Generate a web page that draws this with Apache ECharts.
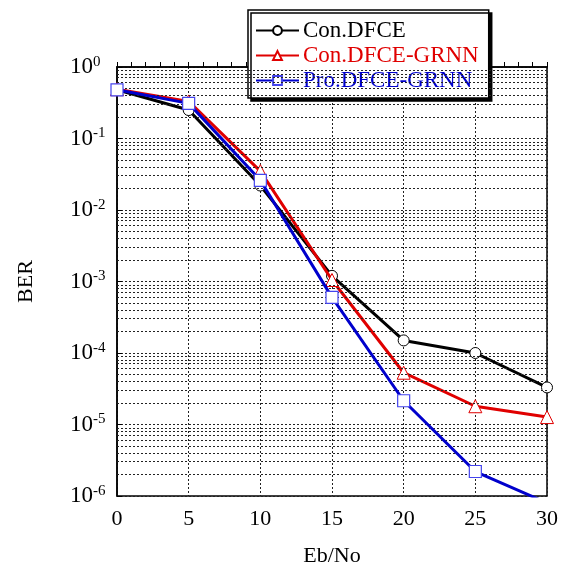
<!DOCTYPE html>
<html>
<head>
<meta charset="utf-8">
<script src="https://cdn.jsdelivr.net/npm/echarts@6/dist/echarts.min.js"></script>
<style>html,body{margin:0;padding:0;background:#fff;}#c{width:566px;height:572px;}</style>
</head>
<body>
<div id="c"></div>
<script>
var ebno = [0, 5, 10, 15, 20, 25, 30];
var conDFCE = [0.48, 0.25, 0.022, 0.0012, 1.5e-4, 1.0e-4, 3.3e-5];
var conDFCEGRNN = [0.49, 0.33, 0.035, 0.00105, 5.3e-5, 1.8e-5, 1.27e-5];
var proDFCEGRNN = [0.48, 0.31, 0.026, 6.0e-4, 2.15e-5, 2.2e-6, 8e-7];
var seriesNames = ['Con.DFCE', 'Con.DFCE-GRNN', 'Pro.DFCE-GRNN'];
var minorMultipliers = [2, 3, 4, 5, 6, 7, 8, 9];
var decades = [-6, -5, -4, -3, -2, -1];

var FONT = 'Liberation Serif';
var minorLines = [];
decades.forEach(function (d) {
  minorMultipliers.forEach(function (m) {
    minorLines.push({ yAxis: d + Math.log10(m) });
  });
});
function pairs(ys) { return ebno.map(function (x, i) { return [x, ys[i]]; }); }

var chart = echarts.init(document.getElementById('c'));
chart.setOption({
  animation: false,
  backgroundColor: '#fff',
  grid: { left: 117, right: 19, top: 67, bottom: 75, show: true, borderColor: '#000', borderWidth: 1.5, backgroundColor: 'transparent' },
  legend: {
    orient: 'vertical',
    left: 248, top: 10,
    padding: [9, 10, 6, 7],
    itemGap: 2,
    itemWidth: 43, itemHeight: 11,
    backgroundColor: '#fff',
    borderColor: '#000', borderWidth: 1.5, borderRadius: 0,
    shadowColor: '#000', shadowBlur: 0, shadowOffsetX: 3, shadowOffsetY: 3,
    textStyle: { fontFamily: FONT, fontSize: 23, padding: [0, 0, 0, -1] },
    data: [
      { name: seriesNames[0], textStyle: { color: '#000' } },
      { name: seriesNames[1], textStyle: { color: '#e00000' } },
      { name: seriesNames[2], textStyle: { color: '#0000cc' } }
    ]
  },
  xAxis: {
    type: 'value', min: 0, max: 30, interval: 5,
    name: 'Eb/No', nameLocation: 'middle', nameGap: 49,
    nameTextStyle: { fontFamily: FONT, fontSize: 22, color: '#000' },
    axisLine: { lineStyle: { color: '#000', width: 1.5 } },
    axisTick: { inside: true, length: 5, lineStyle: { color: '#000' } },
    minorTick: { show: true, splitNumber: 5, length: 5, lineStyle: { color: '#000' } },
    axisLabel: { fontFamily: FONT, fontSize: 22, color: '#000', margin: 12 },
    splitLine: { show: true, lineStyle: { color: '#222', type: [2, 2], width: 1 } }
  },
  yAxis: [
    {
      type: 'log', logBase: 10, min: 1e-6, max: 1, splitNumber: 6,
      name: 'BER', nameLocation: 'middle', nameGap: 80, nameRotate: 90,
      nameTextStyle: { fontFamily: FONT, fontSize: 22, color: '#000' },
      axisLine: { lineStyle: { color: '#000', width: 1.5 } },
      axisTick: { inside: true, length: 5, lineStyle: { color: '#000' } },
      axisLabel: {
        margin: 47, align: 'left',
        formatter: function (v) {
          var e = Math.round(Math.log10(v));
          return '{b|10}{s|' + e + '}';
        },
        rich: {
          b: { fontFamily: FONT, fontSize: 23, color: '#000' },
          s: { fontFamily: FONT, fontSize: 15, color: '#000', verticalAlign: 'top', padding: [0, 0, 10, 0] }
        }
      },
      splitLine: { show: true, lineStyle: { color: '#222', type: [2, 2], width: 1 } }
    },
    {
      type: 'value', min: -6, max: 0, interval: 1, show: false,
      axisLine: { show: false }, axisTick: { show: false }, axisLabel: { show: false }, splitLine: { show: false }
    }
  ],
  series: [
    {
      name: 'grid-minor', type: 'line', data: [], yAxisIndex: 1, z: 1, silent: true,
      markLine: {
        silent: true, symbol: 'none', label: { show: false },
        lineStyle: { color: '#222', type: [2, 2], width: 1 },
        emphasis: { disabled: true },
        data: minorLines
      }
    },
    {
      name: seriesNames[0], type: 'line', data: pairs(conDFCE), z: 3, clip: true,
      color: '#000',
      lineStyle: { color: '#000', width: 3 },
      symbol: 'circle', symbolSize: 11,
      itemStyle: { color: '#fff', borderColor: '#000', borderWidth: 1 }
    },
    {
      name: seriesNames[1], type: 'line', data: pairs(conDFCEGRNN), z: 4, clip: true,
      color: '#e00000',
      lineStyle: { color: '#e00000', width: 3 },
      symbol: 'triangle', symbolSize: 13,
      itemStyle: { color: '#fff', borderColor: '#e00000', borderWidth: 1 }
    },
    {
      name: seriesNames[2], type: 'line', data: pairs(proDFCEGRNN), z: 5, clip: true,
      color: '#0000cc',
      lineStyle: { color: '#0000cc', width: 3 },
      symbol: 'rect', symbolSize: 12,
      itemStyle: { color: '#fff', borderColor: '#4444ee', borderWidth: 1.2 }
    }
  ]
});
</script>
</body>
</html>
